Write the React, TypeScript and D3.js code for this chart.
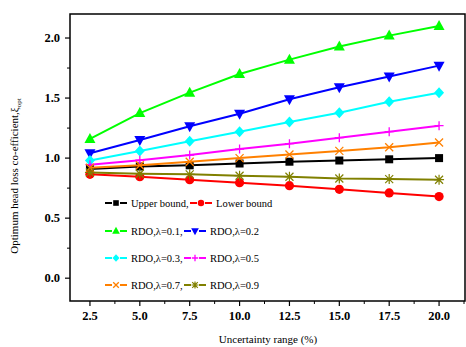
import React from 'react'
import * as d3 from 'd3'

const W = 466
const H = 347

// uncertainty range (%)
const ranges = [2.5, 5.0, 7.5, 10.0, 12.5, 15.0, 17.5, 20.0]

const upperBound = [0.91, 0.93, 0.94, 0.955, 0.97, 0.98, 0.99, 1.0]
const lowerBound = [0.865, 0.845, 0.82, 0.795, 0.77, 0.74, 0.71, 0.68]
const rdo01 = [1.16, 1.375, 1.545, 1.7, 1.82, 1.93, 2.02, 2.1]
const rdo02 = [1.04, 1.15, 1.265, 1.37, 1.49, 1.59, 1.68, 1.77]
const rdo03 = [0.98, 1.06, 1.14, 1.22, 1.3, 1.378, 1.47, 1.545]
const rdo05 = [0.945, 0.983, 1.025, 1.075, 1.12, 1.17, 1.22, 1.27]
const rdo07 = [0.92, 0.94, 0.97, 1.0, 1.03, 1.06, 1.09, 1.13]
const rdo09 = [0.88, 0.87, 0.865, 0.853, 0.845, 0.83, 0.825, 0.82]

const xTicks = [2.5, 5.0, 7.5, 10.0, 12.5, 15.0, 17.5, 20.0]
const yTicks = [0.0, 0.5, 1.0, 1.5, 2.0]

type Marker = 'square' | 'circle' | 'up' | 'down' | 'diamond' | 'plus' | 'cross' | 'star'

const series: { label: string; values: number[]; color: string; marker: Marker }[] = [
    { label: 'Upper bound,', values: upperBound, color: '#000000', marker: 'square' },
    { label: 'Lower bound', values: lowerBound, color: '#ff0000', marker: 'circle' },
    { label: 'RDO,λ=0.1,', values: rdo01, color: '#00ff00', marker: 'up' },
    { label: 'RDO,λ=0.2', values: rdo02, color: '#0000ff', marker: 'down' },
    { label: 'RDO,λ=0.3,', values: rdo03, color: '#00ffff', marker: 'diamond' },
    { label: 'RDO,λ=0.5', values: rdo05, color: '#ff00ff', marker: 'plus' },
    { label: 'RDO,λ=0.7,', values: rdo07, color: '#ff8000', marker: 'cross' },
    { label: 'RDO,λ=0.9', values: rdo09, color: '#808000', marker: 'star' },
]

const FONT = '"Liberation Serif", "Times New Roman", serif'

const plot = { left: 70, right: 465, top: 14, bottom: 301 }

const MarkerShape = ({
    type,
    x,
    y,
    color,
    k = 1,
}: {
    type: Marker
    x: number
    y: number
    color: string
    k?: number
}) => {
    switch (type) {
        case 'square':
            return <rect x={x - 4 * k} y={y - 4 * k} width={8 * k} height={8 * k} fill={color} />
        case 'circle':
            return <circle cx={x} cy={y} r={4.6 * k} fill={color} />
        case 'up':
            return (
                <path
                    d={`M${x},${y - 6 * k}L${x + 5.5 * k},${y + 4 * k}L${x - 5.5 * k},${y + 4 * k}Z`}
                    fill={color}
                />
            )
        case 'down':
            return (
                <path
                    d={`M${x},${y + 6 * k}L${x + 5.5 * k},${y - 4 * k}L${x - 5.5 * k},${y - 4 * k}Z`}
                    fill={color}
                />
            )
        case 'diamond':
            return (
                <path
                    d={`M${x},${y - 5.5 * k}L${x + 5 * k},${y}L${x},${y + 5.5 * k}L${x - 5 * k},${y}Z`}
                    fill={color}
                />
            )
        case 'plus':
            return (
                <path
                    d={`M${x - 4.5 * k},${y}H${x + 4.5 * k}M${x},${y - 4.5 * k}V${y + 4.5 * k}`}
                    stroke={color}
                    strokeWidth={1.3}
                />
            )
        case 'cross':
            return (
                <path
                    d={`M${x - 4 * k},${y - 4 * k}L${x + 4 * k},${y + 4 * k}M${x - 4 * k},${y + 4 * k}L${x + 4 * k},${y - 4 * k}`}
                    stroke={color}
                    strokeWidth={1.3}
                />
            )
        case 'star':
            return (
                <path
                    d={`M${x - 4 * k},${y - 4 * k}L${x + 4 * k},${y + 4 * k}M${x - 4 * k},${y + 4 * k}L${x + 4 * k},${y - 4 * k}M${x},${y - 5 * k}V${y + 5 * k}M${x - 5 * k},${y}H${x + 5 * k}`}
                    stroke={color}
                    strokeWidth={1.2}
                />
            )
    }
    return null
}

const App = () => {
    const x = d3.scaleLinear().domain([1.5, 21.3]).range([plot.left, plot.right])
    const y = d3.scaleLinear().domain([-0.19, 2.2]).range([plot.bottom, plot.top])

    const line = d3
        .line<number>()
        .x((_, i) => x(ranges[i]))
        .y(d => y(d))

    const xMinor = d3.range(3.75, 21.3, 2.5)
    const yMinor = d3.range(0.25, 2.2, 0.5)

    // legend rows: [left entry, right entry, x of right entry]
    const legendRows: [number, number, number][] = [
        [0, 1, 190],
        [2, 3, 184],
        [4, 5, 184],
        [6, 7, 184],
    ]
    const legendY = [203, 231, 258, 285]

    const legendEntry = (idx: number, lx: number, ly: number) => {
        const s = series[idx]
        return (
            <g key={idx}>
                <line x1={lx} x2={lx + 7} y1={ly} y2={ly} stroke={s.color} strokeWidth={2} />
                <line x1={lx + 15} x2={lx + 22} y1={ly} y2={ly} stroke={s.color} strokeWidth={2} />
                <MarkerShape type={s.marker} x={lx + 11} y={ly} color={s.color} k={0.7} />
                <text x={lx + 26} y={ly + 3.5} fontSize={10.5} fontFamily={FONT} fill="#000">
                    {s.label}
                </text>
            </g>
        )
    }

    return (
        <svg width={W} height={H} style={{ position: 'absolute', left: 0, top: 0, background: '#fff' }}>
            {/* series */}
            {series.map(s => (
                <g key={s.label}>
                    <path d={line(s.values) ?? ''} fill="none" stroke={s.color} strokeWidth={2} />
                    {s.values.map((v, i) => (
                        <MarkerShape key={i} type={s.marker} x={x(ranges[i])} y={y(v)} color={s.color} />
                    ))}
                </g>
            ))}

            {/* legend */}
            {legendRows.map((r, i) => (
                <g key={i}>
                    {legendEntry(r[0], 105, legendY[i])}
                    {legendEntry(r[1], r[2], legendY[i])}
                </g>
            ))}

            {/* frame */}
            <rect
                x={plot.left}
                y={plot.top}
                width={plot.right - plot.left}
                height={plot.bottom - plot.top}
                fill="none"
                stroke="#000"
                strokeWidth={1.5}
            />

            {/* x axis */}
            {xTicks.map(t => (
                <g key={t}>
                    <line x1={x(t)} x2={x(t)} y1={plot.bottom} y2={plot.bottom + 5} stroke="#000" strokeWidth={1.2} />
                    <text
                        x={x(t)}
                        y={320}
                        textAnchor="middle"
                        fontSize={12.5}
                        fontWeight="bold"
                        fontFamily={FONT}
                    >
                        {t.toFixed(1)}
                    </text>
                </g>
            ))}
            {xMinor.map(t => (
                <line key={t} x1={x(t)} x2={x(t)} y1={plot.bottom} y2={plot.bottom + 3} stroke="#000" strokeWidth={1} />
            ))}

            {/* y axis */}
            {yTicks.map(t => (
                <g key={t}>
                    <line x1={plot.left - 5} x2={plot.left} y1={y(t)} y2={y(t)} stroke="#000" strokeWidth={1.2} />
                    <text
                        x={60}
                        y={y(t) + 4.2}
                        textAnchor="end"
                        fontSize={12.5}
                        fontWeight="bold"
                        fontFamily={FONT}
                    >
                        {t.toFixed(1)}
                    </text>
                </g>
            ))}
            {yMinor.map(t => (
                <line key={t} x1={plot.left - 3} x2={plot.left} y1={y(t)} y2={y(t)} stroke="#000" strokeWidth={1} />
            ))}

            {/* axis titles */}
            <text x={268} y={343} textAnchor="middle" fontSize={11} fontFamily={FONT}>
                Uncertainty range (%)
            </text>
            <text transform="translate(18,176) rotate(-90)" textAnchor="middle" fontSize={11} fontFamily={FONT}>
                Optimum head loss co-efficient,ξ
                <tspan fontSize={7} dy={3}>
                    opt
                </tspan>
            </text>
        </svg>
    )
}

export default App
